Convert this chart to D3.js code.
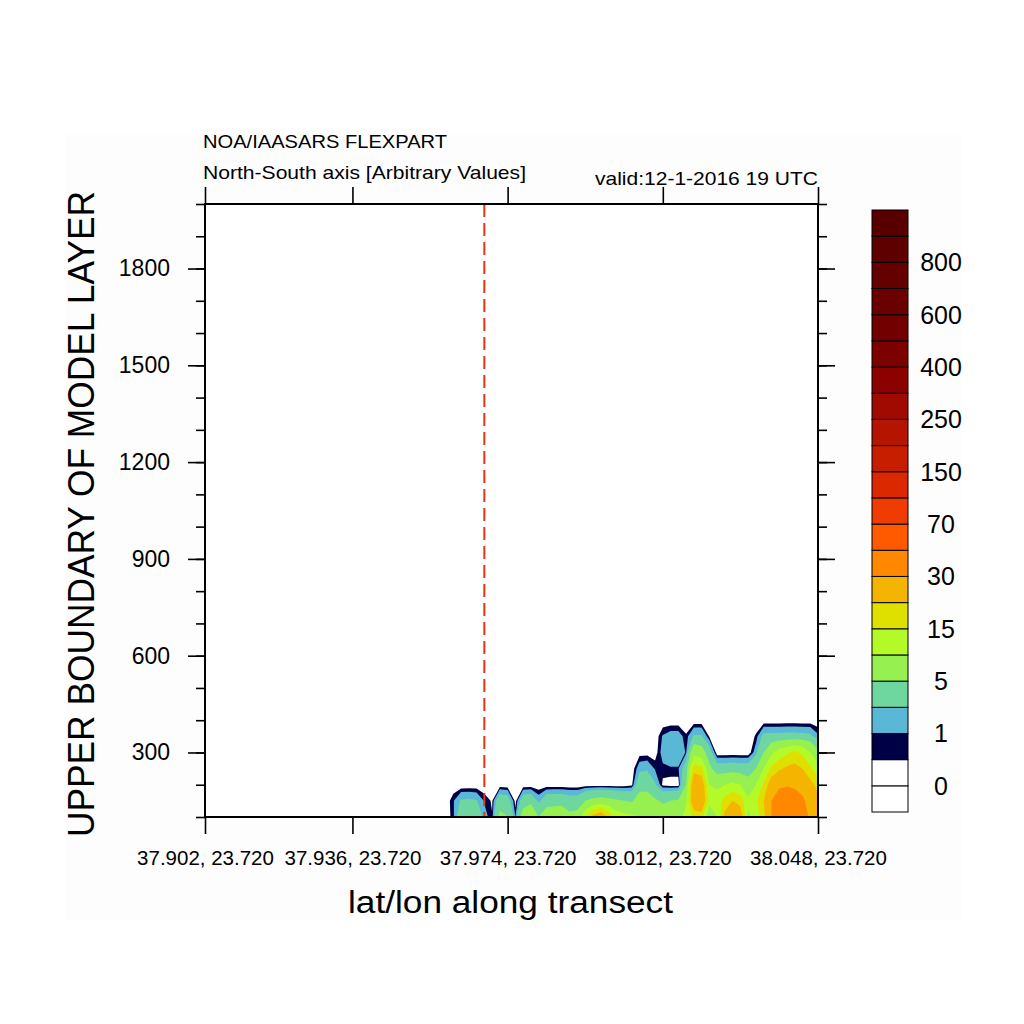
<!DOCTYPE html>
<html>
<head>
<meta charset="utf-8">
<script src="https://cdn.jsdelivr.net/npm/d3@7"></script>
<style>
  body { margin: 0; background: #fff; }
  svg { display: block; font-family: "Liberation Sans", Arial, Helvetica, sans-serif; }
  .axis path.domain { display: none; }
  .axis line { stroke: #000; stroke-width: 1.6px; }
  .axis text { fill: #000; }
</style>
</head>
<body>
<div id="chart"></div>
<script>
// model layer tops (m) of the rows below
const heights = [100, 150, 200, 250, 300, 350, 400];

// concentration along the transect (80 points), one array per layer
const conc100 = [
  0, 0, 0, 0, 0, 0, 0, 0, 0, 0, 0, 0, 0, 0, 0, 0,
  0, 0, 0, 0, 0, 0, 0, 0, 0, 0, 0, 0, 0, 0, 0, 0,
  0.8, 3.5, 4.2, 3.8, 1.4, 0.55, 6, 5, 1.0, 7, 11, 5, 7.5, 8, 8.5, 6,
  6.5, 14, 22, 26, 19, 13, 11.5, 11, 10, 9.5, 8, 7, 7.5, 8, 12, 16,
  17, 4, 10, 22, 27, 24, 9, 12, 18, 30, 40, 45, 42, 36, 28, 24
];
const conc150 = [
  0, 0, 0, 0, 0, 0, 0, 0, 0, 0, 0, 0, 0, 0, 0, 0,
  0, 0, 0, 0, 0, 0, 0, 0, 0, 0, 0, 0, 0, 0, 0, 0,
  0.9, 2.2, 2.3, 2.1, 0.9, 0.4, 3.5, 3, 0.2, 3.2, 3.6, 1.6, 3.4, 3.5, 3.5, 3,
  3, 5, 6, 6.5, 6, 5.5, 5, 4.5, 7, 7, 5.5, 4.5, 5, 5.5, 9, 26,
  27, 12, 12, 17, 20, 18, 11, 14, 20, 30, 36, 38, 36, 32, 26, 22
];
const conc200 = [
  0, 0, 0, 0, 0, 0, 0, 0, 0, 0, 0, 0, 0, 0, 0, 0,
  0, 0, 0, 0, 0, 0, 0, 0, 0, 0, 0, 0, 0, 0, 0, 0,
  0, 0, 0, 0, 0, 0, 0, 0, 0, 0, 0, 0, 0, 0, 0, 0,
  0, 0, 0, 0, 0, 0, 0, 0.3, 3.5, 3.5, 2.2, 0.3, 0.1, 0.1, 5, 26,
  25, 10, 9, 10, 11, 10, 7, 10, 16, 24, 28, 29, 28, 26, 22, 18
];
const conc250 = [
  0, 0, 0, 0, 0, 0, 0, 0, 0, 0, 0, 0, 0, 0, 0, 0,
  0, 0, 0, 0, 0, 0, 0, 0, 0, 0, 0, 0, 0, 0, 0, 0,
  0, 0, 0, 0, 0, 0, 0, 0, 0, 0, 0, 0, 0, 0, 0, 0,
  0, 0, 0, 0, 0, 0, 0, 0, 1.6, 1.8, 0.9, 0.8, 0.9, 0.9, 3, 18,
  16, 6, 3, 3, 3.2, 3, 3, 5, 10, 16, 19, 21, 22, 20, 16, 12
];
const conc300 = [
  0, 0, 0, 0, 0, 0, 0, 0, 0, 0, 0, 0, 0, 0, 0, 0,
  0, 0, 0, 0, 0, 0, 0, 0, 0, 0, 0, 0, 0, 0, 0, 0,
  0, 0, 0, 0, 0, 0, 0, 0, 0, 0, 0, 0, 0, 0, 0, 0,
  0, 0, 0, 0, 0, 0, 0, 0, 0.2, 0.2, 0.1, 1.4, 1.8, 1.8, 0.9, 8,
  7, 3, 0, 0, 0, 0, 0, 1.5, 5, 9, 12, 14, 16, 14, 10, 6
];
const conc350 = [
  0, 0, 0, 0, 0, 0, 0, 0, 0, 0, 0, 0, 0, 0, 0, 0,
  0, 0, 0, 0, 0, 0, 0, 0, 0, 0, 0, 0, 0, 0, 0, 0,
  0, 0, 0, 0, 0, 0, 0, 0, 0, 0, 0, 0, 0, 0, 0, 0,
  0, 0, 0, 0, 0, 0, 0, 0, 0, 0, 0, 1.1, 1.5, 1.5, 0.6, 2.2,
  2.2, 0.4, 0, 0, 0, 0, 0, 0.6, 2.5, 2.5, 2.5, 2.6, 2.6, 2.5, 2.4, 1.2
];
const conc400 = [
  0, 0, 0, 0, 0, 0, 0, 0, 0, 0, 0, 0, 0, 0, 0, 0,
  0, 0, 0, 0, 0, 0, 0, 0, 0, 0, 0, 0, 0, 0, 0, 0,
  0, 0, 0, 0, 0, 0, 0, 0, 0, 0, 0, 0, 0, 0, 0, 0,
  0, 0, 0, 0, 0, 0, 0, 0, 0, 0, 0, 0, 0, 0, 0, 0,
  0, 0, 0, 0, 0, 0, 0, 0, 0, 0, 0, 0, 0, 0, 0, 0
];

// contour levels and colours (one more colour than levels, bottom to top)
const levels = [0, 0.5, 1, 2, 5, 10, 15, 20, 30, 50, 70, 100, 150, 200, 250, 300, 400, 500, 600, 700, 800, 900];
const colors = ['#ffffff', '#ffffff', '#000046', '#5ab8d6', '#6ed7a0', '#96f050', '#b4fa28', '#e0e000',
  '#f5b400', '#ff8800', '#ff5a00', '#f03c00', '#dc2800', '#c81e00', '#b41400', '#a00a00',
  '#8c0000', '#7d0000', '#730000', '#6a0000', '#640000', '#5e0000', '#580000'];

const xTickIdx = [0, 19, 39, 59, 79];
const xTickLabels = ['37.902, 23.720', '37.936, 23.720', '37.974, 23.720', '38.012, 23.720', '38.048, 23.720'];
const yTicks = [300, 600, 900, 1200, 1500, 1800];
const yMinorTicks = [100, 200, 300, 400, 500, 600, 700, 800, 900, 1000, 1100, 1200, 1300, 1400, 1500, 1600, 1700, 1800, 1900, 2000];
const markIdx = 36;

const W = 1024, H = 1024;
const plot = { left: 205, right: 818, top: 204, bottom: 817 };

const svg = d3.select('#chart').append('svg')
    .attr('width', W)
    .attr('height', H);

// faint page frame behind everything
svg.append('rect')
    .attr('x', 66).attr('y', 134)
    .attr('width', 896).attr('height', 786)
    .attr('fill', '#fdfdfd');

svg.append('rect')
    .attr('x', plot.left).attr('y', plot.top)
    .attr('width', plot.right - plot.left).attr('height', plot.bottom - plot.top)
    .attr('fill', '#fff');

const x = d3.scaleLinear().domain([0, conc100.length - 1]).range([plot.left, plot.right]);
const y = d3.scaleLinear().domain([100, 2000]).range([plot.bottom, plot.top]);

// filled contours
const rows = [conc100, conc150, conc200, conc250, conc300, conc350, conc400];
const nx = conc100.length, ny = rows.length;
const grid = rows.flat();
const thresholds = levels.slice(1);

const bands = d3.contours().size([nx, ny]).thresholds(thresholds)(grid);

const toPx = d3.geoTransform({
    point(cx, cy) {
        const i = Math.max(0, Math.min(nx - 1, cx - 0.5));
        const j = Math.max(0, Math.min(ny - 1, cy - 0.5));
        const j0 = Math.min(Math.floor(j), ny - 2);
        const h = heights[j0] + (j - j0) * (heights[j0 + 1] - heights[j0]);
        this.stream.point(x(i), y(h));
    }
});
const path = d3.geoPath(toPx);

svg.append('g')
    .selectAll('path')
    .data(bands)
    .join('path')
    .attr('d', path)
    .attr('fill', d => colors[levels.indexOf(d.value) + 1])
    .attr('stroke', 'none');

// marker of the selected point
svg.append('line')
    .attr('x1', x(markIdx)).attr('x2', x(markIdx))
    .attr('y1', plot.top).attr('y2', plot.bottom)
    .attr('stroke', '#e8340c')
    .attr('stroke-width', 2)
    .attr('stroke-dasharray', '13,6');

// axes
const gx = svg.append('g').attr('class', 'axis')
    .attr('transform', `translate(0,${plot.bottom})`)
    .call(d3.axisBottom(x).tickValues(xTickIdx).tickSize(17).tickSizeOuter(0)
        .tickFormat((d, i) => xTickLabels[i]));
gx.selectAll('text')
    .attr('y', 48).attr('dy', null)
    .attr('font-size', '20.5px');

svg.append('g').attr('class', 'axis')
    .attr('transform', `translate(0,${plot.top})`)
    .call(d3.axisTop(x).tickValues(xTickIdx).tickSize(17).tickSizeOuter(0).tickFormat(''));

const gy = svg.append('g').attr('class', 'axis')
    .attr('transform', `translate(${plot.left},0)`)
    .call(d3.axisLeft(y).tickValues(yTicks).tickSize(17).tickPadding(18).tickSizeOuter(0)
        .tickFormat(d3.format('d')));
gy.selectAll('text').attr('font-size', '23px');

svg.append('g').attr('class', 'axis')
    .attr('transform', `translate(${plot.left},0)`)
    .call(d3.axisLeft(y).tickValues(yMinorTicks).tickSize(9).tickSizeOuter(0).tickFormat(''));

svg.append('g').attr('class', 'axis')
    .attr('transform', `translate(${plot.right},0)`)
    .call(d3.axisRight(y).tickValues(yTicks).tickSize(17).tickSizeOuter(0).tickFormat(''));

svg.append('g').attr('class', 'axis')
    .attr('transform', `translate(${plot.right},0)`)
    .call(d3.axisRight(y).tickValues(yMinorTicks).tickSize(9).tickSizeOuter(0).tickFormat(''));

svg.append('rect')
    .attr('x', plot.left).attr('y', plot.top)
    .attr('width', plot.right - plot.left).attr('height', plot.bottom - plot.top)
    .attr('fill', 'none')
    .attr('stroke', '#000')
    .attr('stroke-width', 2);

// titles
svg.append('text')
    .attr('x', 203).attr('y', 148)
    .attr('font-size', '18.5px')
    .attr('textLength', 244).attr('lengthAdjust', 'spacingAndGlyphs')
    .text('NOA/IAASARS FLEXPART');

svg.append('text')
    .attr('x', 203).attr('y', 179)
    .attr('font-size', '18.5px')
    .attr('textLength', 323).attr('lengthAdjust', 'spacingAndGlyphs')
    .text('North-South axis [Arbitrary Values]');

svg.append('text')
    .attr('x', 595).attr('y', 185)
    .attr('font-size', '18.5px')
    .attr('textLength', 223).attr('lengthAdjust', 'spacingAndGlyphs')
    .text('valid:12-1-2016 19 UTC');

svg.append('text')
    .attr('x', 348).attr('y', 913)
    .attr('font-size', '31px')
    .attr('textLength', 325).attr('lengthAdjust', 'spacingAndGlyphs')
    .text('lat/lon along transect');

svg.append('text')
    .attr('transform', 'translate(93.5,191) rotate(-90)')
    .attr('x', -646)
    .attr('font-size', '36px')
    .attr('textLength', 646).attr('lengthAdjust', 'spacingAndGlyphs')
    .text('UPPER BOUNDARY OF MODEL LAYER');

// colour bar
const cb = { x: 872, w: 36, top: 210, bottom: 812 };
const cbY = d3.scaleLinear().domain([0, colors.length]).range([cb.bottom, cb.top]);

svg.append('g')
    .selectAll('rect')
    .data(colors)
    .join('rect')
    .attr('x', cb.x)
    .attr('y', (d, i) => cbY(i + 1))
    .attr('width', cb.w)
    .attr('height', (d, i) => cbY(i) - cbY(i + 1))
    .attr('fill', d => d)
    .attr('stroke', '#000')
    .attr('stroke-width', 1);

svg.append('g')
    .selectAll('text')
    .data(levels.filter((d, i) => i % 2 === 0))
    .join('text')
    .attr('x', 941)
    .attr('y', d => cbY(levels.indexOf(d) + 1))
    .attr('dy', '0.36em')
    .attr('text-anchor', 'middle')
    .attr('font-size', '25px')
    .text(d => d);
</script>
</body>
</html>
